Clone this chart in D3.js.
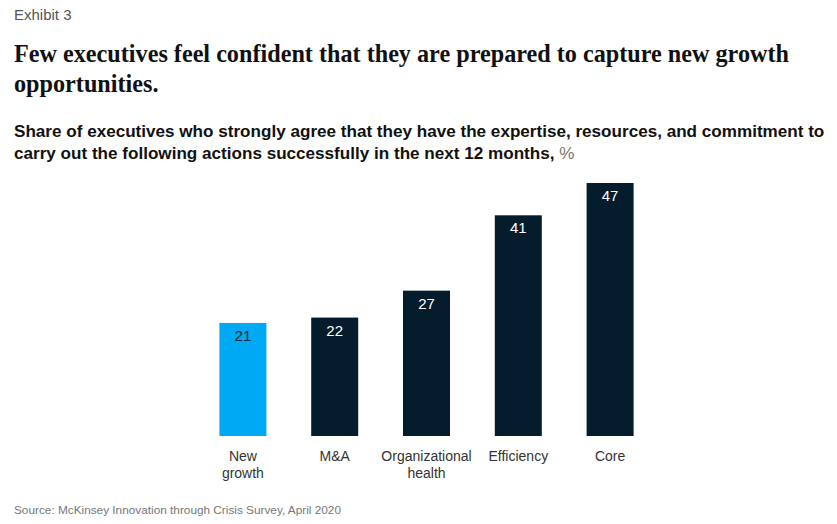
<!DOCTYPE html>
<html>
<head>
<meta charset="utf-8">
<script src="https://cdn.jsdelivr.net/npm/d3@7"></script>
<style>
  body { margin: 0; background: #fff; }
  svg { font-family: "Liberation Sans", Arial, sans-serif; }
</style>
</head>
<body>
<svg id="chart" width="837" height="524"></svg>
<script>
const categories = ["New growth", "M&A", "Organizational health", "Efficiency", "Core"];
const labelLines = [["New", "growth"], ["M&A"], ["Organizational", "health"], ["Efficiency"], ["Core"]];
const values = [21, 22, 27, 41, 47];
const highlight = ["New growth"];

const svg = d3.select("#chart"),
  width = +svg.attr("width"),
  height = +svg.attr("height");

// Header texts
svg.append("text")
  .attr("x", 14).attr("y", 20)
  .attr("font-size", 15).attr("fill", "#555")
  .text("Exhibit 3");

const title = svg.append("text")
  .style("font-family", "'Liberation Serif', 'Times New Roman', serif")
  .attr("font-weight", "bold")
  .attr("font-size", 24.2)
  .attr("fill", "#111");
title.append("tspan").attr("x", 14).attr("y", 62)
  .text("Few executives feel confident that they are prepared to capture new growth");
title.append("tspan").attr("x", 14).attr("y", 92)
  .text("opportunities.");

const sub = svg.append("text")
  .attr("font-weight", "bold")
  .attr("font-size", 17.1)
  .attr("fill", "#111");
sub.append("tspan").attr("x", 14).attr("y", 137)
  .text("Share of executives who strongly agree that they have the expertise, resources, and commitment to");
const l2 = sub.append("tspan").attr("x", 14).attr("y", 159)
  .text("carry out the following actions successfully in the next 12 months, ");
l2.append("tspan").attr("font-weight", "normal").attr("fill", "#777").text("%");

// Scales
const x = d3.scaleBand()
  .domain(categories)
  .range([197, 656])
  .paddingInner(0.488)
  .paddingOuter(0.244);

const y = d3.scaleLinear()
  .domain([0, 47])
  .range([436, 183]);

// Bars
svg.append("g")
  .selectAll("rect")
  .data(values)
  .join("rect")
  .attr("x", (d, i) => x(categories[i]))
  .attr("y", d => y(d))
  .attr("width", x.bandwidth())
  .attr("height", d => y(0) - y(d))
  .attr("fill", (d, i) => highlight.includes(categories[i]) ? "#00a9f4" : "#051c2c");

// Value labels
svg.append("g")
  .selectAll("text")
  .data(values)
  .join("text")
  .attr("x", (d, i) => x(categories[i]) + x.bandwidth() / 2)
  .attr("y", d => y(d) + 18)
  .attr("text-anchor", "middle")
  .attr("font-size", 15)
  .attr("fill", (d, i) => highlight.includes(categories[i]) ? "#051c2c" : "#fff")
  .text(d => d);

// Category axis labels
const xAxis = svg.append("g")
  .attr("transform", `translate(0,${y(0)})`)
  .call(d3.axisBottom(x).tickSize(0).tickFormat(""));
xAxis.select(".domain").remove();
xAxis.selectAll(".tick").each(function (c, i) {
  const t = d3.select(this).append("text")
    .attr("text-anchor", "middle")
    .attr("font-size", 14)
    .attr("fill", "#333");
  labelLines[i].forEach((line, j) => {
    t.append("tspan").attr("x", 0).attr("y", 25 + j * 17).text(line);
  });
});

// Source
svg.append("text")
  .attr("x", 14).attr("y", 514)
  .attr("font-size", 11.8).attr("fill", "#777")
  .text("Source: McKinsey Innovation through Crisis Survey, April 2020");
</script>
</body>
</html>
